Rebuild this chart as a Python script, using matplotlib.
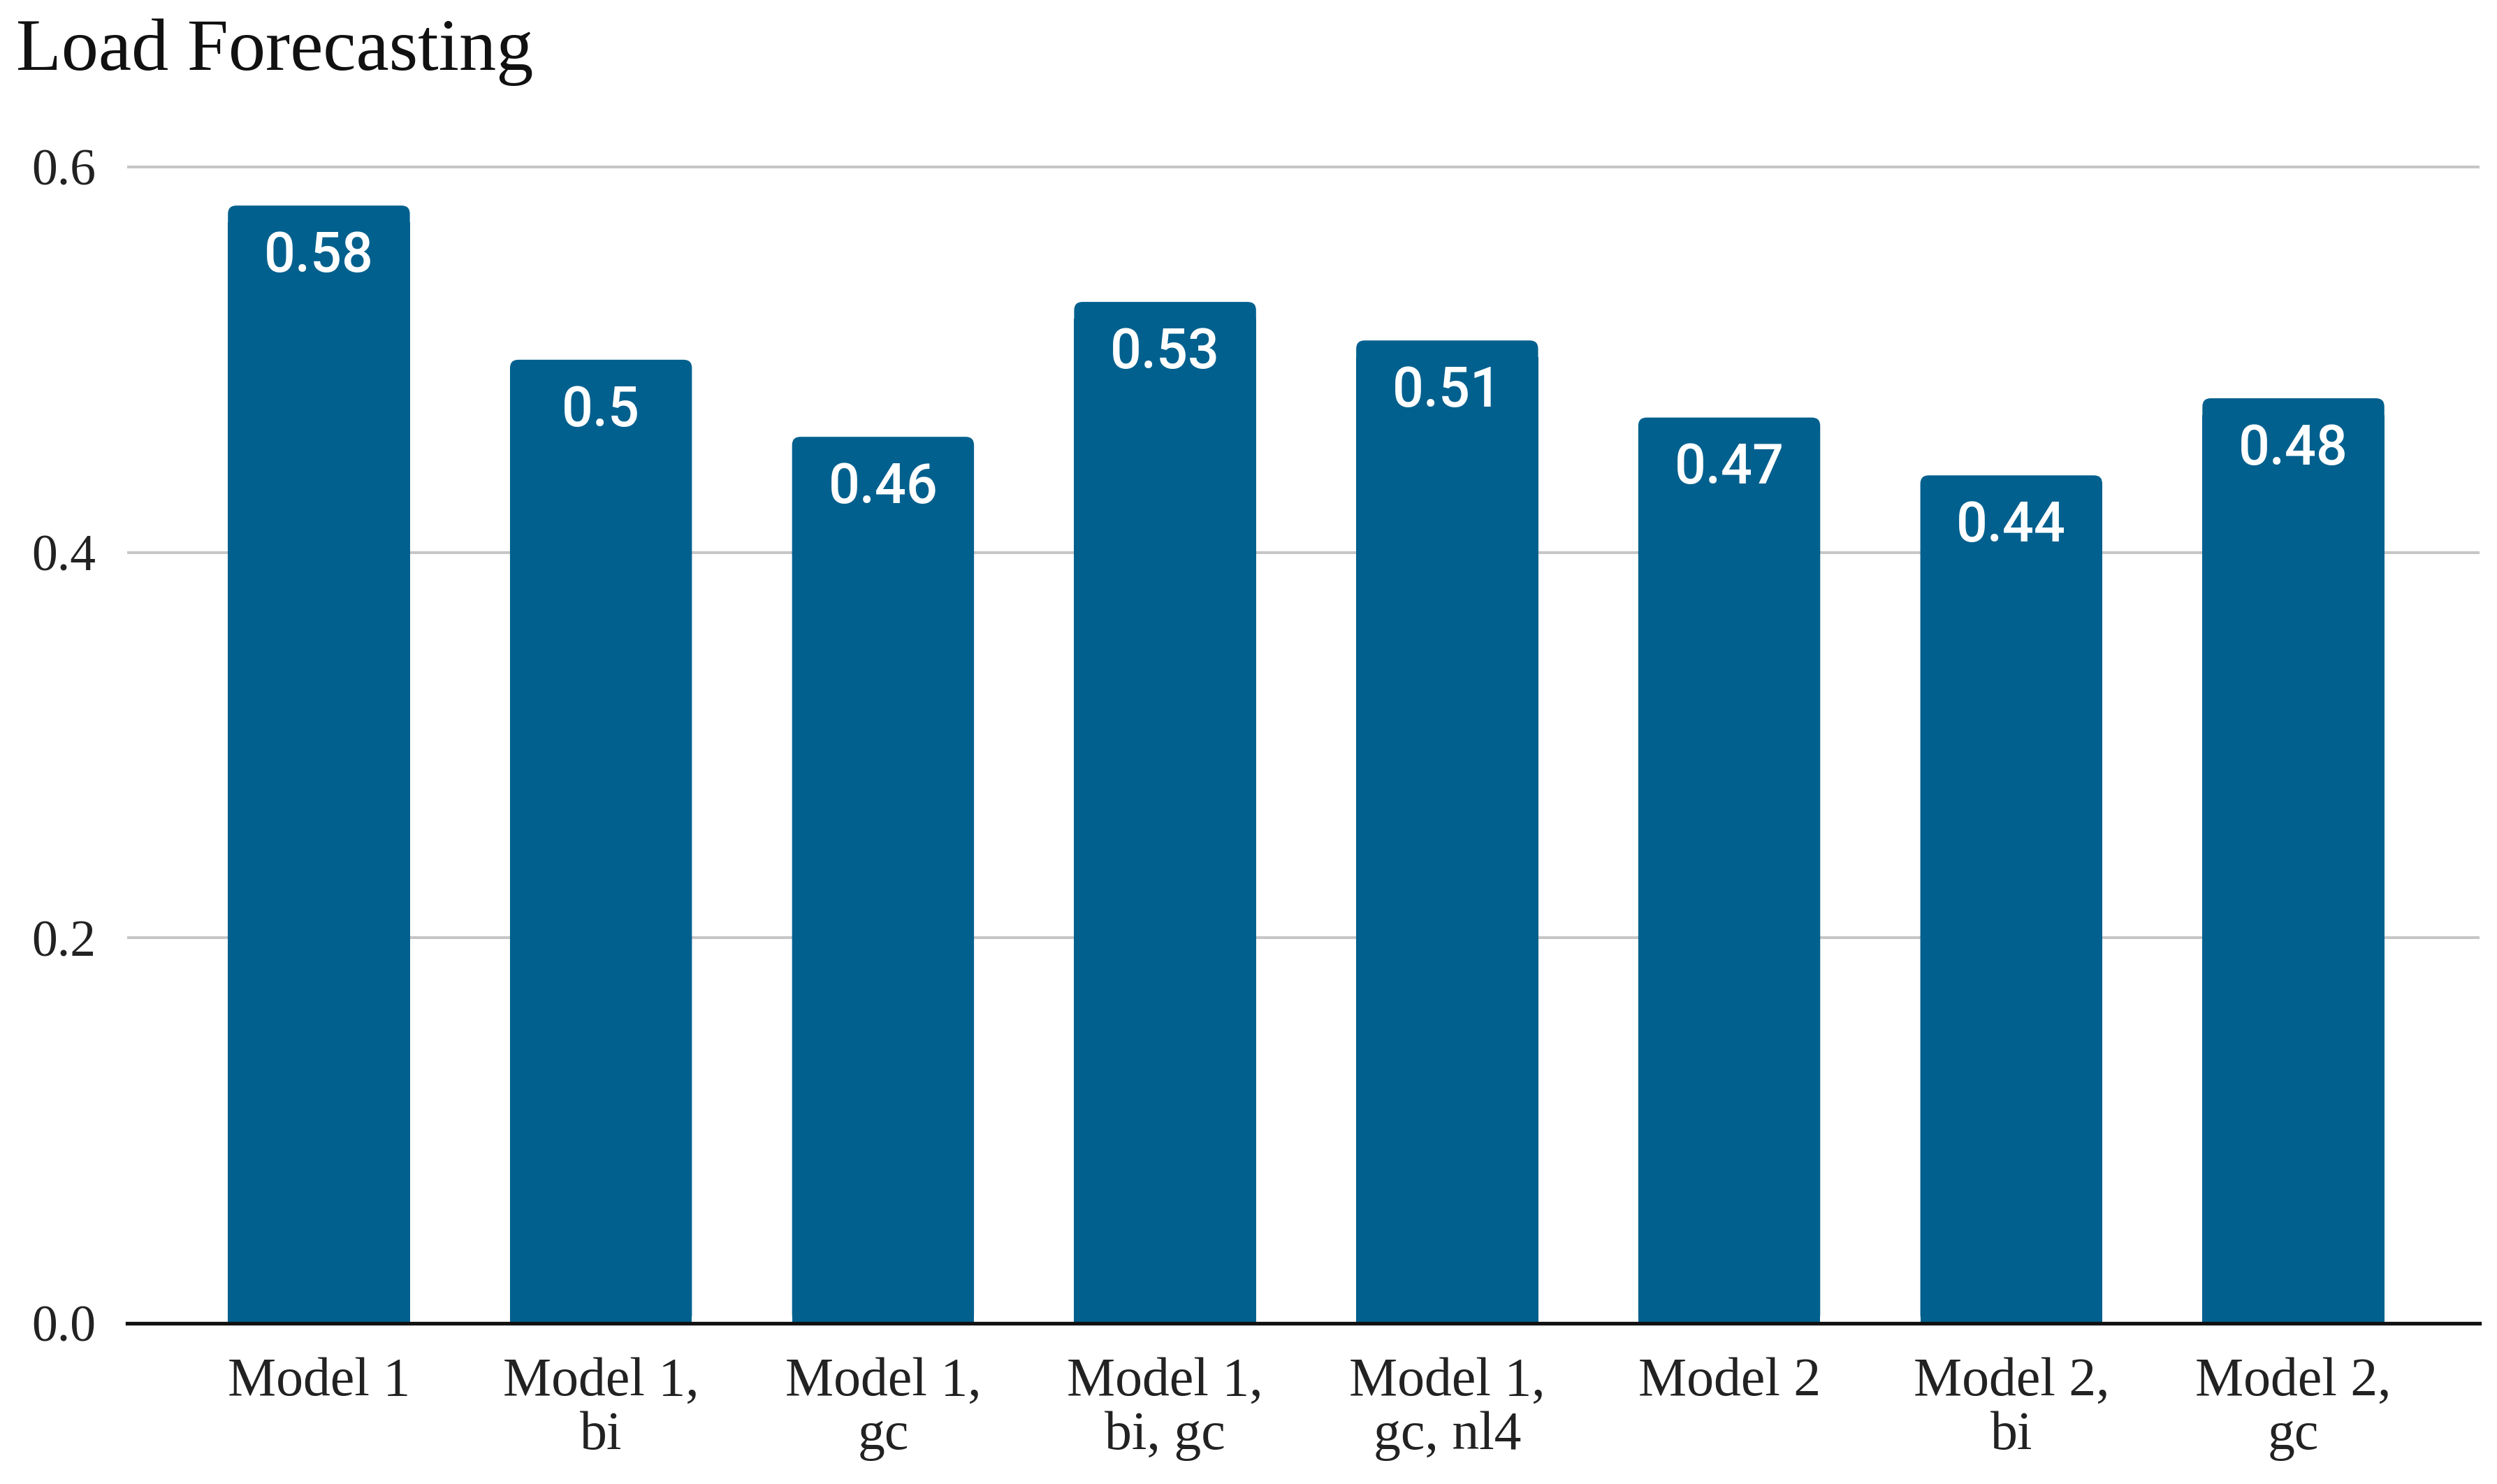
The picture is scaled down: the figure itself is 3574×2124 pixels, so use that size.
import matplotlib
matplotlib.use("Agg")
import matplotlib.pyplot as plt
from matplotlib.patches import FancyBboxPatch
import numpy as np

# data
models = ["Model 1", "Model 1,\nbi", "Model 1,\ngc", "Model 1,\nbi, gc",
          "Model 1,\ngc, nl4", "Model 2", "Model 2,\nbi", "Model 2,\ngc"]
scores = [0.58, 0.5, 0.46, 0.53, 0.51, 0.47, 0.44, 0.48]
yticks = [0.0, 0.2, 0.4, 0.6]

bar_color = "#01608e"
serif = "Liberation Serif"

fig = plt.figure(figsize=(35.74, 21.24), dpi=100)
ax = fig.add_axes([0.0509, 0.1083, 0.9421, 0.7811])

x = np.arange(len(models))
bars = ax.bar(x, scores, width=0.645, color=bar_color, zorder=3)

ax.set_xlim(-0.68, 7.66)
ax.set_ylim(0, 0.6015)

# round the top corners of the bars (radius in pixels -> data units)
ax_w = fig.get_figwidth() * fig.dpi * 0.9421
ax_h = fig.get_figheight() * fig.dpi * 0.7811
px_x = ax_w / (7.66 + 0.68)
px_y = ax_h / 0.6015
r_px = 12
rx = r_px / px_x
ry = r_px / px_y
for b in bars:
    x0, w, h = b.get_x(), b.get_width(), b.get_height()
    ax.add_patch(FancyBboxPatch((x0, 0), w, h,
                                boxstyle=f"round,pad=0,rounding_size={rx}",
                                mutation_aspect=ry / rx,
                                facecolor=bar_color, edgecolor="none", zorder=3))
    b.set_height(h - 2 * ry)

# value labels inside the bars
for xi, v in zip(x, scores):
    ax.annotate(f"{v:g}", (xi, v), xytext=(0, -25), textcoords="offset points",
                ha="center", va="top", color="white", fontsize=57,
                family="Roboto", fontweight="medium", zorder=4)

ax.set_yticks(yticks)
ax.set_yticklabels([f"{t:.1f}" for t in yticks], family=serif, fontsize=53)
ax.set_xticks(x)
ax.set_xticklabels(models, family=serif, fontsize=56, linespacing=1.1)
ax.tick_params(axis="both", length=0, colors="#222222")
ax.tick_params(axis="y", pad=32)
ax.tick_params(axis="x", pad=35)

ax.grid(axis="y", color="#c6c6c6", linewidth=2.9, zorder=0)
for s in ["top", "right", "left"]:
    ax.spines[s].set_visible(False)
ax.spines["bottom"].set_color("#111111")
ax.spines["bottom"].set_linewidth(3.8)
ax.spines["bottom"].set_zorder(5)

fig.text(0.0064, 1 - 100 / 2124, "Load Forecasting", family=serif,
         fontsize=76.5, va="baseline", ha="left", color="#111111")

fig.savefig("out.png", dpi=100)
